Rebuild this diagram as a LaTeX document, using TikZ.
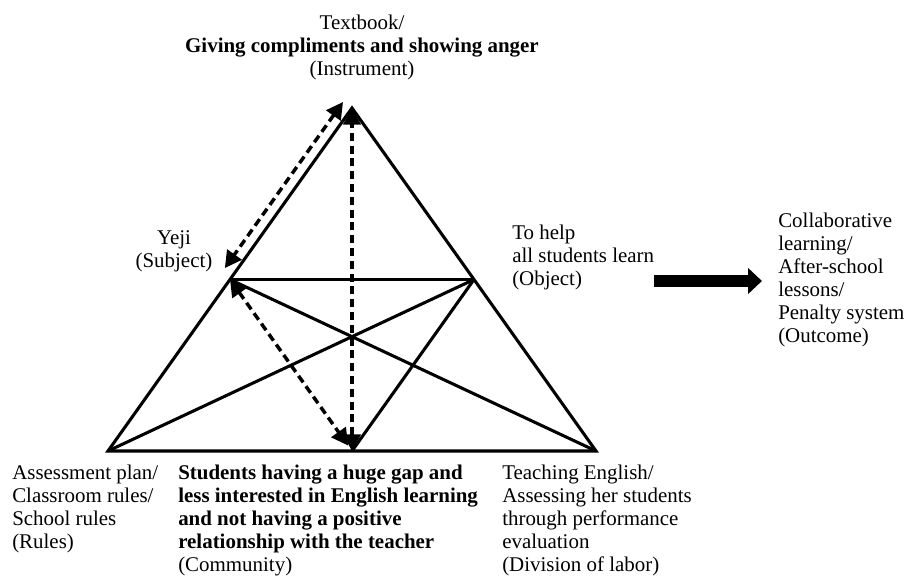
\documentclass[tikz,border=0pt]{standalone}
\usepackage{fontspec}
\setmainfont{Liberation Serif}
\usetikzlibrary{arrows.meta}

\begin{document}
\begin{tikzpicture}[x=0.75pt,y=-0.75pt,
  edge/.style={line width=2.3pt},
  link/.style={line width=2.6pt, dash pattern=on 6pt off 3.6pt,
    {Triangle[length=12.5pt,width=13pt]}-{Triangle[length=12.5pt,width=13pt]}},
  fat arrow/.style={line width=9pt, -{Triangle[length=10.5pt,width=19pt]}},
  label/.style={inner sep=0pt, font=\fontsize{15.7}{17.25}\selectfont}]
\useasboundingbox (0,0) rectangle (908,577);

% corners
\coordinate (instrument) at (352,108);
\coordinate (rules) at (108,451);
\coordinate (division) at (596,451);
\coordinate (subject) at (230,279.5);
\coordinate (object) at (474,279.5);
\coordinate (community) at (352,451);

% triangle
\draw[edge] (rules) -- (instrument) -- (division) -- cycle;
\draw[edge] (subject) -- (object);
\draw[edge] (subject) -- (division);
\draw[edge] (object) -- (rules);
\draw[edge] (object) -- (community);

% dashed links
\draw[link] (community) -- (instrument);
\draw[link, shorten >=5pt] ([shift={(-9,-6)}]instrument) -- ([shift={(-9,-6)}]subject);
\draw[link, shorten >=5pt] (subject) -- (community);

% labels
\node[label, anchor=north, align=center] (instrument label) at (362,14.5)
  {Textbook/\\\textbf{Giving compliments and showing anger}\\(Instrument)};
\node[label, anchor=north, align=center] (subject label) at (174,230.5)
  {Yeji\\(Subject)};
\node[label, anchor=north west, align=left] (object label) at (512,224.5)
  {To help\\all students learn\\(Object)};
\node[label, anchor=north west, align=left] (outcome label) at (778,212.5)
  {Collaborative\\learning/\\After-school\\lessons/\\Penalty system\\(Outcome)};
\node[label, anchor=north west, align=left] (rules label) at (12,464.5)
  {Assessment plan/\\Classroom rules/\\School rules\\(Rules)};
\node[label, anchor=north west, align=left] (community label) at (178,464.5)
  {\textbf{Students having a huge gap and}\\\textbf{less interested in English learning}\\
   \textbf{and not having a positive}\\\textbf{relationship with the teacher}\\(Community)};
\node[label, anchor=north west, align=left] (division label) at (502,464.5)
  {Teaching English/\\Assessing her students\\through performance\\evaluation\\(Division of labor)};

% outcome arrow
\draw[fat arrow] (object label.east |- 0,281) -- ([xshift=-12pt]outcome label.west |- 0,281);

\end{tikzpicture}
\end{document}
